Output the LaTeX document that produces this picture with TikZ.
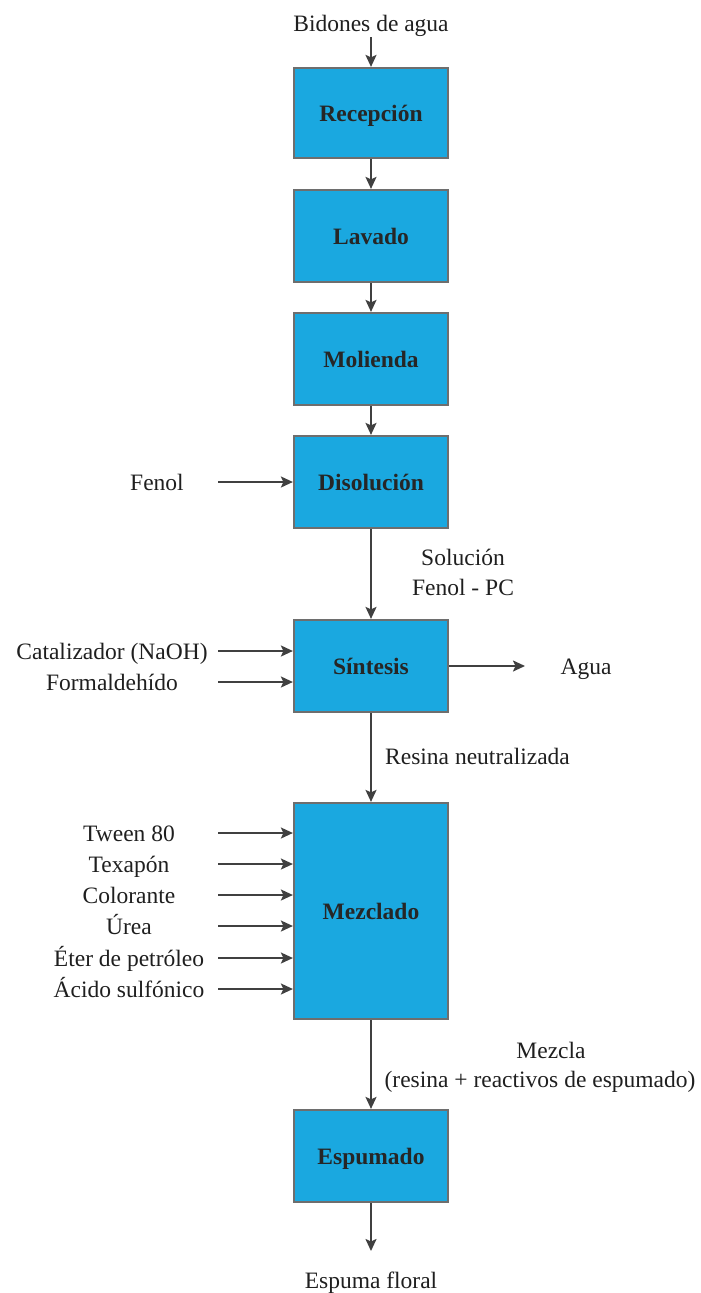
\documentclass[tikz,border=0pt]{standalone}
\usepackage{fontspec}
\setmainfont{Liberation Serif}
\usetikzlibrary{arrows.meta}
\definecolor{boxblue}{HTML}{1AA8E0}
\definecolor{boxedge}{HTML}{6E6E6E}
\definecolor{flow}{HTML}{404040}
\begin{document}
\begin{tikzpicture}[x=1pt,y=-1pt,
  every node/.style={font=\fontsize{23.5}{28}\selectfont, text=black!88},
  stage/.style={draw=boxedge, line width=2.2pt, fill=boxblue, minimum width=154pt,
    inner sep=0pt, text height=19pt, text depth=2pt,
    font=\fontsize{23.5}{28}\selectfont\bfseries, text=black!85},
  flowline/.style={draw=flow, line width=2pt, -{Stealth[length=12pt,width=11pt,inset=2.5pt]}},
  tag/.style={align=center, inner sep=0pt, text height=19pt, text depth=2pt}]
\useasboundingbox (0,0) rectangle (701,1293);

% process stages
\node[stage, minimum height=90pt] (rec) at (371,113) {Recepción};
\node[stage, minimum height=92pt] (lav) at (371,236) {Lavado};
\node[stage, minimum height=92pt] (mol) at (371,359) {Molienda};
\node[stage, minimum height=92pt] (dis) at (371,482) {Disolución};
\node[stage, minimum height=92pt] (sin) at (371,666) {Síntesis};
\node[stage, minimum height=216pt] (mez) at (371,911) {Mezclado};
\node[stage, minimum height=92pt] (esp) at (371,1156) {Espumado};

% main stream
\node[tag] (bid) at (371,23) {Bidones de agua};
\coordinate (bidend) at (371,37);
\draw[flowline] (bidend) -- (rec);
\draw[flowline] (rec) -- (lav);
\draw[flowline] (lav) -- (mol);
\draw[flowline] (mol) -- (dis);
\draw[flowline] (dis) -- (sin);
\draw[flowline] (sin) -- (mez);
\draw[flowline] (mez) -- (esp);
\coordinate (out) at (371,1251);
\draw[flowline] (esp) -- (out);
\node[tag] (foam) at (371,1280) {Espuma floral};

% stream labels
\node[tag] (sol1) at (463,557) {Solución};
\node[tag] (sol2) at (463,587) {Fenol - PC};
\node[tag, anchor=west] (res) at (385,756) {Resina neutralizada};
\node[tag] (mix1) at (551,1050) {Mezcla};
\node[tag] (mix2) at (540,1079) {(resina + reactivos de espumado)};

% feed to Disolución
\node[tag] (fenol) at (157,482) {Fenol};
\coordinate (f0) at (218,482);
\draw[flowline] (f0) -- (dis.west |- f0);

% feeds to Síntesis
\node[tag] (cat) at (112,651) {Catalizador (NaOH)};
\node[tag] (form) at (112,682) {Formaldehído};
\coordinate (c0) at (218,651);
\coordinate (c1) at (218,682);
\draw[flowline] (c0) -- (sin.west |- c0);
\draw[flowline] (c1) -- (sin.west |- c1);

% water leaving Síntesis
\coordinate (w1) at (525,666);
\draw[flowline] (sin) -- (w1);
\node[tag] (agua) at (586,666) {Agua};

% feeds to Mezclado
\foreach \y/\lab [count=\i] in {833/Tween 80, 864/Texapón, 895/Colorante,
    926/Úrea, 958/Éter de petróleo, 989/Ácido sulfónico}{
  \node[tag] (m\i) at (129,\y) {\lab};
  \coordinate (mf\i) at (218,\y);
  \draw[flowline] (mf\i) -- (mez.west |- mf\i);
}
\end{tikzpicture}
\end{document}
